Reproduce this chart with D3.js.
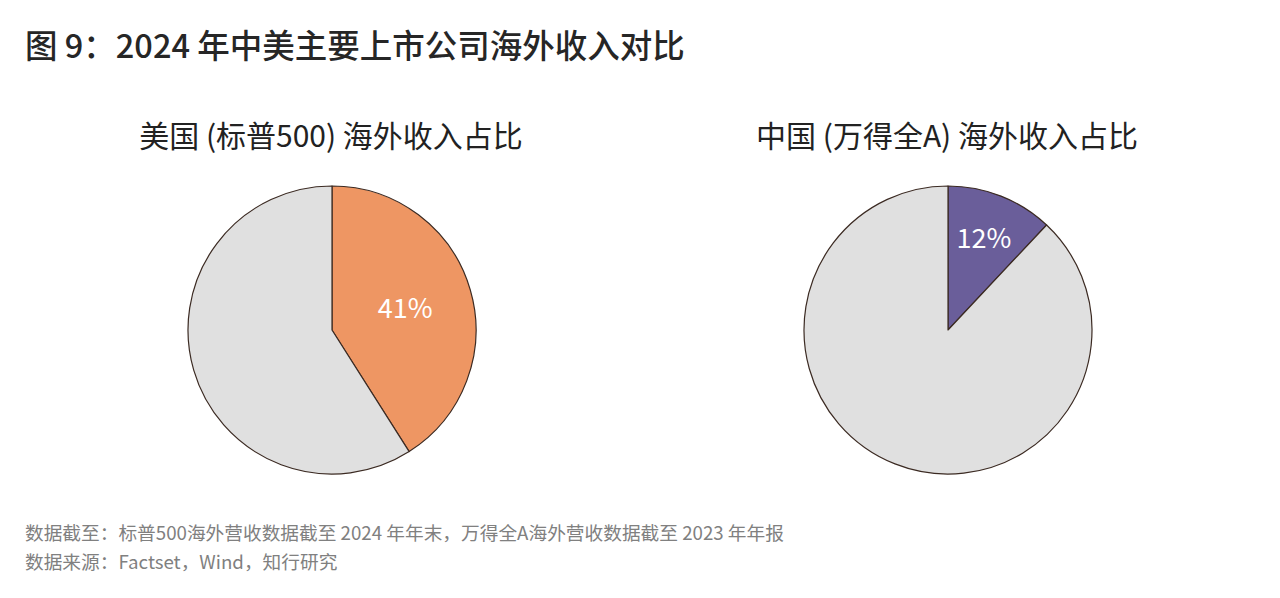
<!DOCTYPE html>
<html><head><meta charset="utf-8">
<script src="https://cdn.jsdelivr.net/npm/d3@7"></script>
<style>body{margin:0;background:#fff;}svg{display:block;}</style>
</head><body>
<svg id="c" width="1280" height="598"></svg>
<script>
const titleText = "图 9：2024 年中美主要上市公司海外收入对比";
const chartTitles = ["美国 (标普500) 海外收入占比", "中国 (万得全A) 海外收入占比"];
const categories = ["海外收入", "国内收入"];
const usValues = [41, 59];
const cnValues = [12, 88];
const notes = ["数据截至：标普500海外营收数据截至 2024 年年末，万得全A海外营收数据截至 2023 年年报",
               "数据来源：Factset，Wind，知行研究"];

const svg = d3.select("#c");
const font = "'Noto Sans CJK SC', 'Noto Sans', sans-serif";
svg.append("rect").attr("width",1280).attr("height",598).attr("fill","#fff");

svg.append("text").attr("x",25).attr("y",58).attr("font-family",font).attr("font-weight",500)
  .attr("font-size",32.5).attr("fill","#262626").text(titleText);

const pies = [
  {values: usValues, cx: 332, title: chartTitles[0], color: "#EE9663", labelR: 0.53},
  {values: cnValues, cx: 948, title: chartTitles[1], color: "#6A5E9A", labelR: 0.68}
];
const R = 144, cy = 330;
const pie = d3.pie().sort(null).value(d => d);
const arc = d3.arc().innerRadius(0).outerRadius(R);

pies.forEach(p => {
  svg.append("text").attr("x", p.cx - 1).attr("y", 147).attr("text-anchor","middle")
    .attr("font-family",font).attr("font-size",30).attr("fill","#222").text(p.title);
  const g = svg.append("g").attr("transform",`translate(${p.cx},${cy})`);
  const arcs = pie(p.values);
  g.selectAll("path").data(arcs).join("path")
    .attr("d", arc)
    .attr("fill", (d,i) => i===0 ? p.color : "#E0E0E0")
    .attr("stroke", "#3b2a22").attr("stroke-width", 1.2).attr("stroke-linejoin","round");
  const la = d3.arc().innerRadius(R*p.labelR).outerRadius(R*p.labelR);
  g.append("text").attr("transform", `translate(${la.centroid(arcs[0])})`)
    .attr("text-anchor","middle").attr("dy","0.35em").attr("font-weight",400)
    .attr("font-family",font).attr("font-size",27).attr("fill","#fff")
    .text(p.values[0] + "%");
});

notes.forEach((t,i) => {
  svg.append("text").attr("x",25).attr("y",540 + i*29).attr("font-family",font)
    .attr("font-size",18.7).attr("fill","#808080").text(t);
});
</script>
</body></html>
